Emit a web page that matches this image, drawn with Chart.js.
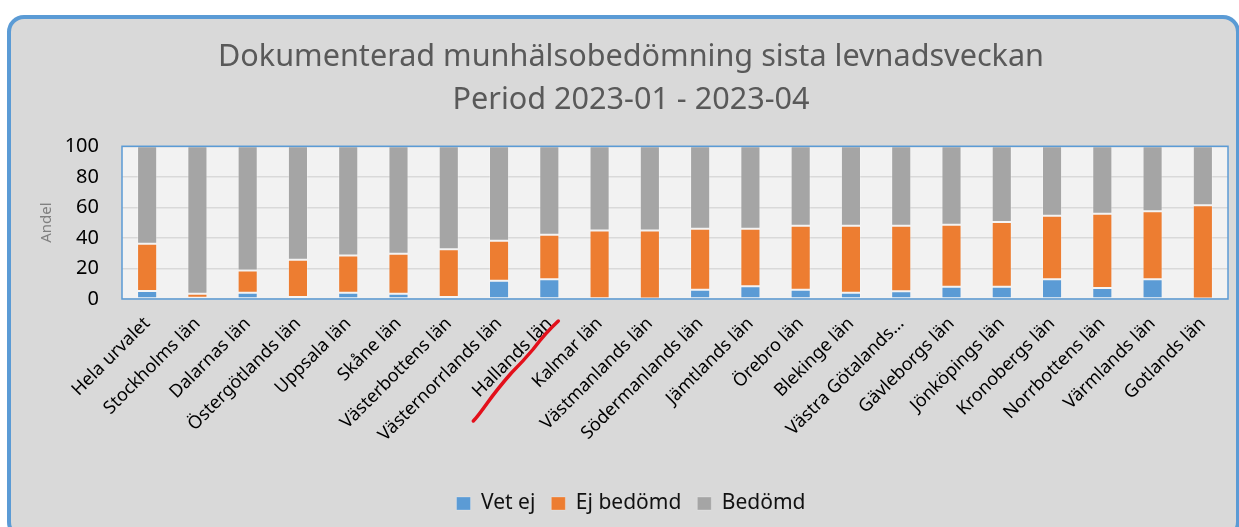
<!DOCTYPE html>
<html>
<head>
<meta charset="utf-8">
<script src="https://cdn.jsdelivr.net/npm/chart.js@4"></script>
<style>
  html, body { margin:0; padding:0; background:#fff; }
  canvas { display:block; }
</style>
</head>
<body>
<canvas id="chart" width="1239" height="527"></canvas>
<script>
const categories = ["Hela urvalet", "Stockholms län", "Dalarnas län", "Östergötlands län", "Uppsala län", "Skåne län", "Västerbottens län", "Västernorrlands län", "Hallands län", "Kalmar län", "Västmanlands län", "Södermanlands län", "Jämtlands län", "Örebro län", "Blekinge län", "Västra Götalands…", "Gävleborgs län", "Jönköpings län", "Kronobergs län", "Norrbottens län", "Värmlands län", "Gotlands län"]
const vetEj = [5.2, 0.8, 4.1, 1.3, 4.1, 3.5, 1.3, 12.0, 12.9, 0.5, 0.3, 6.1, 8.3, 6.1, 4.1, 5.0, 8.1, 8.1, 12.9, 7.2, 12.9, 0.3]
const ejBedomd = [30.9, 2.7, 14.6, 24.4, 24.4, 26.1, 31.2, 26.1, 29.1, 44.4, 44.6, 39.9, 37.7, 41.8, 43.8, 42.9, 40.5, 42.4, 41.6, 48.6, 44.6, 61.1]
const bedomd = [63.9, 96.5, 81.3, 74.3, 71.5, 70.4, 67.5, 61.9, 58.0, 55.1, 55.1, 54.0, 54.0, 52.1, 52.1, 52.1, 51.4, 49.5, 45.5, 44.2, 42.5, 38.6]
const yTicks = [0, 20, 40, 60, 80, 100]
const titleLines = ["Dokumenterad munhälsobedömning sista levnadsveckan", "Period 2023-01 - 2023-04"]
const highlighted = "Hallands län"

const font = "'Noto Sans', 'Open Sans', sans-serif"

/** Frame, plot background, plot border and the hand-drawn mark. */
const decor = {
  id:"decor",
  beforeDraw(chart) {
    const {ctx, chartArea:a} = chart
    ctx.save()
    ctx.fillStyle = "#fff"
    ctx.fillRect(0, 0, chart.width, chart.height)
    ctx.beginPath()
    ctx.roundRect(9, 17, 1229, 520, 15)
    ctx.fillStyle = "#d9d9d9"
    ctx.fill()
    ctx.lineWidth = 4
    ctx.strokeStyle = "#5b9bd5"
    ctx.stroke()
    ctx.fillStyle = "#f2f2f2"
    ctx.fillRect(a.left, a.top, a.right - a.left, a.bottom - a.top)
    ctx.restore()
  },
  afterDraw(chart) {
    const {ctx, chartArea:a} = chart
    ctx.save()
    ctx.lineWidth = 1.5
    ctx.strokeStyle = "#5b9bd5"
    ctx.strokeRect(a.left, a.top, a.right - a.left, a.bottom - a.top)
    // red underline under the highlighted label
    const x = chart.scales.x.getPixelForValue(categories.indexOf(highlighted))
    const y = chart.scales.x.top
    ctx.strokeStyle = "#e3101b"
    ctx.lineWidth = 3.5
    ctx.lineCap = "round"
    ctx.lineJoin = "round"
    ctx.beginPath()
    ctx.moveTo(x + 9, y + 22)
    ctx.quadraticCurveTo(x - 4, y + 34, x - 16, y + 50)
    ctx.quadraticCurveTo(x - 26, y + 62, x - 38, y + 74)
    ctx.quadraticCurveTo(x - 52, y + 90, x - 62, y + 104)
    ctx.quadraticCurveTo(x - 72, y + 118, x - 76, y + 122)
    ctx.stroke()
    ctx.restore()
  }
}

const bar = (label, data, color) => ({
  label, data,
  backgroundColor:color,
  borderColor:"rgba(255,255,255,0.25)",
  borderWidth:1,
  borderSkipped:false,
  categoryPercentage:1,
  barPercentage:0.4,
})

new Chart(document.getElementById("chart"), {
  type:"bar",
  data:{
    labels:categories,
    datasets:[
      bar("Vet ej", vetEj, "#5b9bd5"),
      bar("Ej bedömd", ejBedomd, "#ed7d31"),
      bar("Bedömd", bedomd, "#a5a5a5"),
    ]
  },
  plugins:[decor],
  options:{
    responsive:false,
    animation:false,
    events:[],
    layout:{ padding:{ left:34, right:11, top:0, bottom:6 } },
    plugins:{
      title:{
        display:true,
        text:titleLines,
        color:"#595959",
        font:{ family:font, size:30.6, weight:"normal", lineHeight:1.41 },
        padding:{ top:36, bottom:24 },
      },
      legend:{
        position:"bottom",
        maxHeight:44,
        labels:{
          color:"#111",
          font:{ family:font, size:21 },
          boxWidth:14,
          boxHeight:13,
          padding:16,
        }
      },
      tooltip:{ enabled:false },
    },
    scales:{
      x:{
        stacked:true,
        grid:{ display:false },
        border:{ display:false },
        ticks:{
          color:"#000",
          font:{ family:font, size:18 },
          minRotation:45,
          maxRotation:45,
          autoSkip:false,
          padding:6,
        },
        afterFit(scale) { scale.height = 178 },
      },
      y:{
        stacked:true,
        min:0,
        max:100,
        afterBuildTicks(scale) { scale.ticks = yTicks.map(value => ({value})) },
        grid:{ color:"#d9d9d9", lineWidth:1.5, drawTicks:false },
        border:{ display:false },
        ticks:{ color:"#000", font:{ family:font, size:20 }, padding:23 },
        title:{
          display:true,
          text:"Andel",
          color:"#7f7f7f",
          font:{ family:font, size:15 },
          padding:{ top:4, bottom:0 },
        },
        afterFit(scale) { scale.width = 88 },
      }
    }
  }
})
</script>
</body>
</html>
